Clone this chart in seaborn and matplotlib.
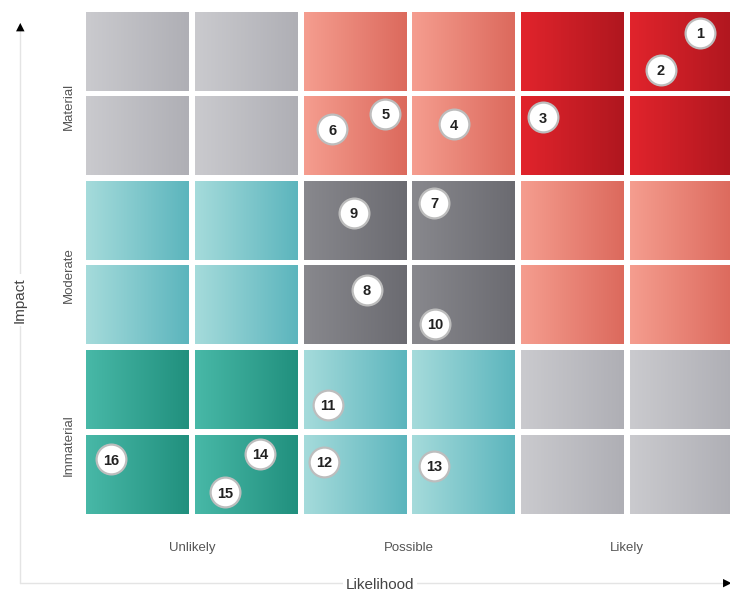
import numpy as np
import matplotlib
matplotlib.use("Agg")
import matplotlib.pyplot as plt
import matplotlib.colors as mcolors
from matplotlib.lines import Line2D
import pandas as pd
import seaborn as sns

# categorias de los ejes
likelihood_levels = ["Unlikely", "Possible", "Likely"]
impact_levels = ["Immaterial", "Moderate", "Material"]

# zona de cada bloque 3x3 (fila 0 = Immaterial)
zones = [
    ["dark_teal", "light_teal", "light_gray"],
    ["light_teal", "dark_gray", "salmon"],
    ["light_gray", "salmon", "red"],
]

# degradado izquierda -> derecha por zona
zone_colors = {
    "light_gray": ("#cacace", "#afafb5"),
    "salmon": ("#f59d8f", "#dc6a5d"),
    "red": ("#e1242c", "#b0171f"),
    "light_teal": ("#a5dbdb", "#5cb5bd"),
    "dark_gray": ("#88888d", "#6b6b71"),
    "dark_teal": ("#48b8a7", "#21907e"),
}

# riesgos numerados (posicion en unidades de celda, 6x6)
risk_ids = list(range(1, 17))
risk_x = [5.67, 5.31, 4.23, 3.41, 2.78, 2.29, 3.23, 2.61, 2.49, 3.24,
          2.25, 2.22, 3.23, 1.63, 1.31, 0.26]
risk_y = [5.72, 5.28, 4.72, 4.64, 4.76, 4.58, 3.71, 2.68, 3.59, 2.28,
          1.32, 0.65, 0.60, 0.74, 0.29, 0.68]

df = pd.DataFrame({"id": risk_ids, "x": risk_x, "y": risk_y})

sns.set_theme(style="white")
plt.rcParams["font.family"] = ["Liberation Sans", "DejaVu Sans"]

fig = plt.figure(figsize=(7.3, 5.91), dpi=100)
ax = fig.add_axes([0.1137, 0.1259, 0.894, 0.8589])

gx, gy = 0.028, 0.036
for zr in range(3):
    for zc in range(3):
        c0, c1 = zone_colors[zones[zr][zc]]
        a = np.array(mcolors.to_rgb(c0))
        b = np.array(mcolors.to_rgb(c1))
        t = np.linspace(0, 1, 64)[:, None]
        grad = (a * (1 - t) + b * t)[None, :, :]
        for dr in range(2):
            for dc in range(2):
                col = zc * 2 + dc
                row = zr * 2 + dr
                ax.imshow(grad, extent=[col + gx, col + 1 - gx, row + gy, row + 1 - gy],
                          aspect="auto", interpolation="bilinear", zorder=1)

sns.scatterplot(data=df, x="x", y="y", s=460, color="white", edgecolor="#bdbdbd",
                linewidth=1.6, zorder=3, ax=ax, legend=False)
for rid, x, y in zip(risk_ids, risk_x, risk_y):
    ax.text(x, y, str(rid), ha="center", va="center_baseline", fontsize=10.5,
            fontweight="bold", color="#222222", zorder=4)

ax.set_xlim(0, 6)
ax.set_ylim(0, 6)
ax.set_xticks([1, 3, 5])
ax.set_xticklabels(likelihood_levels, fontsize=9.5, color="#555555")
ax.set_yticks([0.85, 2.85, 4.85])
ax.set_yticklabels(impact_levels, fontsize=9.5, color="#555555", rotation=90, va="center")
ax.tick_params(axis="x", length=0, pad=18)
ax.tick_params(axis="y", length=0, pad=6)
ax.set_xlabel("")
ax.set_ylabel("")
for s in ax.spines.values():
    s.set_visible(False)

# ejes con flecha
fig.add_artist(Line2D([20 / 730, 20 / 730], [1 - 30 / 591, 1 - 583 / 591],
                      transform=fig.transFigure, color="#e4e4e4", lw=1))
fig.add_artist(Line2D([20 / 730, 725 / 730], [1 - 583 / 591, 1 - 583 / 591],
                      transform=fig.transFigure, color="#e4e4e4", lw=1))
fig.text(20 / 730, 1 - 27 / 591, "\u25B2", ha="center", va="center", fontsize=8,
         color="black", family="DejaVu Sans")
fig.text(727 / 730, 1 - 583 / 591, "\u25B6", ha="center", va="center", fontsize=8,
         color="black", family="DejaVu Sans")
fig.text(20 / 730, 1 - 300 / 591, "Impact", rotation=90, ha="center", va="center",
         fontsize=11, color="#444444",
         bbox=dict(facecolor="white", edgecolor="none", pad=2))
fig.text(380 / 730, 1 - 585 / 591, "Likelihood", ha="center", va="center",
         fontsize=11, color="#444444",
         bbox=dict(facecolor="white", edgecolor="none", pad=2))

fig.savefig("out.png", dpi=100)
